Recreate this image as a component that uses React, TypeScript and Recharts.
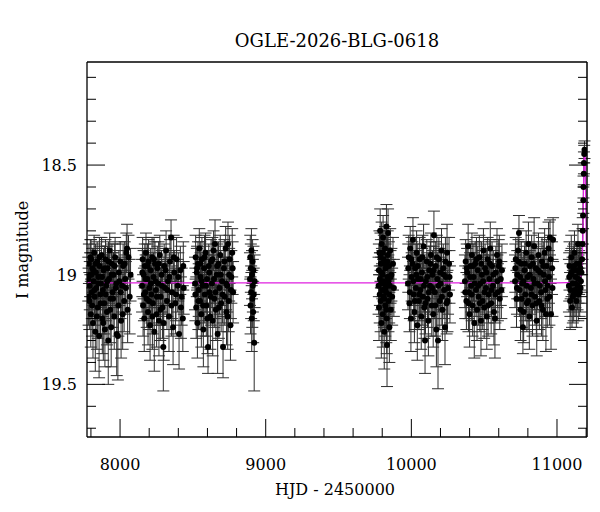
import React from 'react';
import { ComposedChart, Scatter, Line, XAxis, YAxis, ErrorBar } from 'recharts';

// [HJD - 2450000, I mag, error] per observing season
const season2017: [number, number, number][] = [
  [7782, 19.02, 0.10], [7786, 18.95, 0.09], [7789, 19.12, 0.13], [7792, 19.05, 0.11], [7796, 18.92, 0.08],
  [7799, 19.18, 0.15], [7803, 19.00, 0.10], [7806, 19.08, 0.12], [7810, 18.97, 0.09], [7814, 19.22, 0.16],
  [7818, 19.03, 0.11], [7822, 18.90, 0.08], [7826, 19.10, 0.13], [7830, 19.26, 0.18], [7834, 18.99, 0.10],
  [7838, 19.06, 0.12], [7843, 18.94, 0.09], [7847, 19.15, 0.14], [7851, 19.01, 0.10], [7856, 19.28, 0.19],
  [7860, 18.96, 0.09], [7864, 19.09, 0.12], [7869, 19.04, 0.11], [7873, 18.91, 0.08], [7878, 19.20, 0.16],
  [7882, 19.07, 0.12], [7887, 18.98, 0.10], [7891, 19.13, 0.14], [7896, 19.25, 0.17], [7900, 18.93, 0.09],
  [7905, 19.05, 0.11], [7910, 19.17, 0.15], [7914, 18.97, 0.10], [7919, 19.30, 0.20], [7924, 19.02, 0.11],
  [7929, 18.89, 0.08], [7934, 19.11, 0.13], [7939, 19.24, 0.18], [7944, 18.95, 0.09], [7949, 19.08, 0.12],
  [7955, 19.00, 0.10], [7960, 19.19, 0.15], [7966, 18.92, 0.09], [7971, 19.06, 0.12], [7977, 19.27, 0.19],
  [7985, 19.28, 0.20], [7989, 19.14, 0.14], [7995, 19.03, 0.11], [8001, 18.94, 0.09], [8007, 19.21, 0.17],
  [8014, 19.05, 0.12], [8021, 18.96, 0.10], [8028, 19.12, 0.14], [8035, 19.02, 0.11], [8043, 18.90, 0.09],
  [8048, 18.88, 0.11], [8052, 19.16, 0.15], [8058, 18.92, 0.10], [8066, 19.10, 0.17], [8072, 19.00, 0.12],
  [7784, 19.10, 0.13], [7794, 19.00, 0.10], [7801, 18.93, 0.09], [7808, 19.14, 0.14], [7816, 18.98, 0.10],
  [7824, 19.07, 0.12], [7832, 18.95, 0.09], [7841, 19.19, 0.15], [7849, 19.04, 0.11], [7858, 18.92, 0.09],
  [7866, 19.13, 0.14], [7876, 19.01, 0.10], [7885, 19.22, 0.17], [7894, 18.97, 0.10], [7902, 19.09, 0.12],
  [7912, 19.03, 0.11], [7921, 18.94, 0.09], [7932, 19.16, 0.15], [7942, 19.00, 0.10], [7952, 19.11, 0.13],
  [7963, 18.96, 0.10], [7974, 19.04, 0.11], [7992, 18.99, 0.10], [8004, 19.08, 0.12], [8018, 19.18, 0.16],
  [8032, 18.95, 0.10], [8040, 19.06, 0.12],
];

const season2018: [number, number, number][] = [
  [8151, 19.05, 0.12], [8155, 18.93, 0.10], [8158, 19.14, 0.14], [8162, 19.00, 0.11], [8166, 19.20, 0.15],
  [8170, 18.96, 0.10], [8174, 19.08, 0.12], [8178, 18.90, 0.09], [8183, 19.11, 0.13], [8187, 19.02, 0.11],
  [8192, 19.17, 0.15], [8196, 18.94, 0.10], [8201, 19.06, 0.12], [8206, 19.23, 0.16], [8210, 18.98, 0.10],
  [8215, 19.09, 0.13], [8220, 18.92, 0.09], [8225, 19.13, 0.14], [8230, 19.01, 0.11], [8235, 19.26, 0.18],
  [8240, 18.95, 0.10], [8246, 19.07, 0.12], [8251, 19.18, 0.15], [8256, 18.97, 0.10], [8262, 19.04, 0.11],
  [8267, 19.21, 0.16], [8273, 18.91, 0.09], [8279, 19.10, 0.13], [8285, 19.00, 0.11], [8291, 19.15, 0.14],
  [8297, 19.33, 0.20], [8303, 18.96, 0.10], [8309, 19.06, 0.12], [8316, 18.89, 0.09], [8322, 19.12, 0.13],
  [8329, 19.03, 0.11], [8336, 19.19, 0.16], [8343, 18.94, 0.10], [8350, 18.83, 0.08], [8357, 19.08, 0.12],
  [8364, 19.24, 0.17], [8372, 18.99, 0.10], [8380, 19.13, 0.14], [8388, 18.93, 0.10], [8396, 19.05, 0.12],
  [8405, 19.27, 0.16], [8414, 18.98, 0.11], [8423, 19.10, 0.13], [8431, 19.20, 0.15], [8437, 19.06, 0.12],
  [8153, 18.99, 0.11], [8164, 19.09, 0.12], [8176, 19.02, 0.11], [8189, 18.96, 0.10], [8199, 19.12, 0.13],
  [8212, 19.04, 0.11], [8222, 19.19, 0.15], [8233, 18.93, 0.10], [8243, 19.03, 0.11], [8253, 19.10, 0.13],
  [8265, 18.95, 0.10], [8276, 19.16, 0.14], [8288, 19.05, 0.12], [8300, 19.22, 0.17], [8312, 18.98, 0.10],
  [8325, 19.07, 0.12], [8339, 19.01, 0.11], [8353, 19.14, 0.14], [8368, 18.92, 0.10], [8384, 19.09, 0.12],
  [8400, 19.01, 0.11], [8418, 19.15, 0.14], [8434, 18.96, 0.11],
];

const season2019: [number, number, number][] = [
  [8515, 19.04, 0.12], [8519, 18.92, 0.10], [8523, 19.15, 0.14], [8527, 18.99, 0.11], [8531, 19.22, 0.16],
  [8535, 18.95, 0.10], [8540, 19.07, 0.12], [8544, 18.88, 0.09], [8549, 19.12, 0.13], [8553, 19.01, 0.11],
  [8558, 19.18, 0.15], [8562, 18.93, 0.10], [8567, 19.05, 0.12], [8572, 19.25, 0.17], [8577, 18.97, 0.10],
  [8582, 19.09, 0.13], [8587, 18.90, 0.09], [8592, 19.14, 0.14], [8597, 19.02, 0.11], [8604, 19.33, 0.12],
  [8609, 18.96, 0.10], [8614, 19.08, 0.12], [8620, 19.19, 0.15], [8625, 18.94, 0.10], [8631, 19.04, 0.11],
  [8636, 19.21, 0.16], [8642, 18.89, 0.09], [8647, 19.11, 0.13], [8652, 18.86, 0.11], [8658, 19.16, 0.14],
  [8664, 19.00, 0.11], [8670, 19.27, 0.18], [8676, 18.95, 0.10], [8682, 19.06, 0.12], [8688, 18.91, 0.09],
  [8694, 19.13, 0.13], [8700, 19.03, 0.11], [8707, 19.33, 0.14], [8713, 18.97, 0.10], [8719, 19.10, 0.13],
  [8725, 18.88, 0.10], [8731, 19.17, 0.15], [8736, 19.05, 0.12], [8741, 18.86, 0.10], [8746, 19.12, 0.14],
  [8752, 18.93, 0.11], [8758, 19.23, 0.16], [8764, 19.01, 0.12], [8770, 18.90, 0.11], [8776, 19.08, 0.14],
  [8517, 19.09, 0.12], [8529, 18.97, 0.10], [8538, 19.12, 0.13], [8551, 18.95, 0.10], [8560, 19.03, 0.11],
  [8570, 19.14, 0.14], [8580, 18.92, 0.10], [8590, 19.05, 0.12], [8600, 19.20, 0.16], [8612, 18.99, 0.10],
  [8623, 19.10, 0.13], [8634, 18.93, 0.10], [8645, 19.02, 0.11], [8656, 19.08, 0.12], [8667, 18.96, 0.10],
  [8679, 19.15, 0.14], [8691, 19.00, 0.11], [8704, 19.09, 0.13], [8716, 18.94, 0.10], [8728, 19.04, 0.12],
  [8739, 19.19, 0.15], [8749, 19.00, 0.12], [8761, 19.07, 0.13], [8773, 18.97, 0.12],
];

const season2020: [number, number, number][] = [
  [8892, 19.02, 0.12], [8894, 18.92, 0.10], [8896, 19.14, 0.13], [8898, 18.97, 0.11], [8900, 19.08, 0.12],
  [8902, 18.89, 0.10], [8904, 19.20, 0.15], [8906, 19.00, 0.11], [8908, 19.11, 0.13], [8910, 18.94, 0.10],
  [8912, 19.05, 0.12], [8914, 19.17, 0.14], [8916, 18.98, 0.11], [8918, 19.09, 0.12], [8921, 19.31, 0.22],
  [8924, 19.03, 0.12],
];

const season2022: [number, number, number][] = [
  [9775, 19.05, 0.13], [9778, 19.15, 0.15], [9781, 18.90, 0.10], [9784, 19.02, 0.12], [9786, 18.80, 0.10],
  [9789, 19.12, 0.14], [9791, 18.95, 0.11], [9794, 19.22, 0.16], [9796, 18.86, 0.10], [9799, 19.07, 0.12],
  [9801, 19.00, 0.11], [9804, 19.18, 0.15], [9806, 18.83, 0.10], [9809, 19.10, 0.13], [9811, 18.93, 0.11],
  [9814, 19.26, 0.17], [9816, 19.04, 0.12], [9819, 18.88, 0.10], [9821, 19.14, 0.14], [9824, 18.97, 0.11],
  [9826, 19.08, 0.12], [9829, 18.78, 0.10], [9831, 19.20, 0.16], [9833, 19.32, 0.19], [9836, 19.01, 0.12],
  [9838, 18.91, 0.11], [9840, 18.81, 0.11], [9843, 19.12, 0.14], [9846, 18.96, 0.11], [9849, 19.24, 0.16],
  [9852, 19.05, 0.12], [9855, 18.89, 0.10], [9859, 19.16, 0.14], [9863, 19.00, 0.12], [9868, 19.10, 0.13],
  [9874, 18.95, 0.12], [9880, 19.06, 0.13],
  [9777, 18.98, 0.12], [9783, 19.09, 0.13], [9788, 18.92, 0.11], [9793, 19.04, 0.12], [9798, 18.99, 0.11],
  [9803, 18.90, 0.10], [9808, 19.03, 0.12], [9813, 19.11, 0.13], [9818, 18.95, 0.11], [9823, 19.06, 0.12],
  [9828, 19.16, 0.15], [9835, 18.94, 0.11], [9842, 19.03, 0.12], [9848, 19.09, 0.13], [9857, 19.01, 0.12],
];

const season2023: [number, number, number][] = [
  [9977, 19.04, 0.12], [9982, 18.92, 0.10], [9987, 19.13, 0.13], [9992, 18.88, 0.10], [9997, 19.20, 0.15],
  [10002, 19.01, 0.11], [10007, 18.95, 0.10], [10011, 18.84, 0.10], [10016, 19.09, 0.12], [10021, 19.17, 0.14],
  [10026, 18.97, 0.11], [10031, 19.06, 0.12], [10036, 18.90, 0.10], [10041, 19.23, 0.16], [10046, 19.02, 0.11],
  [10052, 19.12, 0.13], [10057, 18.93, 0.10], [10062, 19.07, 0.12], [10068, 19.19, 0.15], [10073, 18.99, 0.11],
  [10079, 19.10, 0.13], [10084, 18.87, 0.10], [10089, 19.15, 0.14], [10094, 19.30, 0.15], [10100, 19.03, 0.11],
  [10106, 18.94, 0.10], [10111, 19.11, 0.13], [10117, 19.21, 0.16], [10123, 18.98, 0.11], [10128, 19.05, 0.12],
  [10134, 18.91, 0.10], [10140, 19.14, 0.14], [10145, 19.00, 0.11], [10150, 19.18, 0.15], [10155, 18.82, 0.11],
  [10161, 19.08, 0.12], [10167, 18.96, 0.11], [10172, 19.25, 0.17], [10178, 19.02, 0.12], [10183, 19.30, 0.22],
  [10189, 18.93, 0.10], [10195, 19.12, 0.13], [10201, 19.04, 0.12], [10207, 18.89, 0.10], [10213, 19.16, 0.14],
  [10219, 18.97, 0.11], [10225, 19.07, 0.13], [10231, 19.24, 0.17], [10237, 19.01, 0.12], [10242, 19.13, 0.14],
  [10245, 18.90, 0.13], [10252, 19.06, 0.12], [10259, 18.95, 0.12], [10265, 19.09, 0.13],
  [9979, 18.97, 0.11], [9990, 19.08, 0.12], [10000, 18.93, 0.10], [10013, 19.03, 0.11], [10024, 19.12, 0.13],
  [10034, 19.00, 0.11], [10044, 18.96, 0.10], [10055, 19.09, 0.12], [10065, 19.02, 0.11], [10076, 18.92, 0.10],
  [10087, 19.05, 0.12], [10097, 19.13, 0.14], [10109, 19.01, 0.11], [10120, 19.08, 0.12], [10131, 18.95, 0.10],
  [10143, 19.06, 0.12], [10153, 18.98, 0.11], [10164, 19.14, 0.14], [10175, 18.92, 0.10], [10186, 19.05, 0.12],
  [10198, 18.99, 0.11], [10210, 19.10, 0.13], [10222, 19.00, 0.11], [10234, 18.94, 0.11], [10248, 19.12, 0.14],
  [10262, 19.01, 0.12],
];

const season2024: [number, number, number][] = [
  [10368, 19.03, 0.12], [10373, 18.94, 0.10], [10378, 19.12, 0.13], [10383, 18.99, 0.11], [10390, 18.87, 0.10],
  [10395, 19.08, 0.12], [10400, 19.18, 0.15], [10405, 18.96, 0.10], [10411, 19.05, 0.12], [10416, 18.91, 0.10],
  [10421, 19.14, 0.14], [10427, 19.01, 0.11], [10432, 19.22, 0.16], [10438, 18.95, 0.10], [10444, 19.07, 0.12],
  [10451, 19.16, 0.14], [10456, 18.98, 0.11], [10462, 19.10, 0.13], [10467, 18.92, 0.10], [10473, 19.04, 0.12],
  [10478, 19.21, 0.16], [10484, 19.00, 0.11], [10490, 19.12, 0.13], [10495, 18.89, 0.10], [10500, 19.15, 0.14],
  [10506, 18.97, 0.11], [10512, 19.06, 0.12], [10518, 19.19, 0.15], [10524, 18.93, 0.10], [10530, 19.09, 0.13],
  [10536, 19.02, 0.11], [10542, 18.88, 0.12], [10548, 19.13, 0.14], [10554, 18.96, 0.11], [10560, 19.05, 0.12],
  [10567, 19.17, 0.15], [10574, 19.20, 0.18], [10580, 18.99, 0.12], [10588, 18.91, 0.12], [10594, 19.08, 0.13],
  [10600, 18.96, 0.12], [10607, 19.11, 0.14], [10614, 19.02, 0.12], [10622, 18.98, 0.12],
  [10370, 19.08, 0.12], [10380, 18.97, 0.11], [10392, 19.13, 0.13], [10403, 19.01, 0.11], [10414, 19.09, 0.12],
  [10424, 18.96, 0.10], [10435, 19.04, 0.12], [10447, 18.93, 0.10], [10459, 19.05, 0.12], [10470, 19.13, 0.13],
  [10481, 18.95, 0.10], [10493, 19.03, 0.12], [10503, 19.08, 0.12], [10515, 18.99, 0.11], [10527, 19.14, 0.14],
  [10539, 18.95, 0.11], [10551, 19.07, 0.12], [10563, 19.00, 0.11], [10577, 19.09, 0.13], [10591, 19.03, 0.12],
  [10604, 18.94, 0.12], [10618, 19.07, 0.13],
];

const season2025: [number, number, number][] = [
  [10712, 19.03, 0.12], [10717, 18.93, 0.10], [10722, 19.11, 0.13], [10727, 19.00, 0.11], [10733, 18.89, 0.10],
  [10739, 18.81, 0.08], [10744, 19.07, 0.12], [10750, 19.16, 0.14], [10755, 18.95, 0.10], [10761, 19.04, 0.12],
  [10766, 19.24, 0.12], [10771, 19.17, 0.14], [10777, 18.98, 0.11], [10782, 19.09, 0.12], [10788, 18.90, 0.10],
  [10793, 19.13, 0.13], [10799, 19.01, 0.11], [10804, 18.86, 0.10], [10810, 19.19, 0.15], [10815, 18.96, 0.10],
  [10821, 19.06, 0.12], [10826, 18.92, 0.10], [10832, 19.14, 0.14], [10838, 19.02, 0.11], [10843, 18.87, 0.13],
  [10849, 19.10, 0.13], [10855, 18.97, 0.11], [10861, 19.21, 0.16], [10867, 19.04, 0.12], [10873, 18.91, 0.10],
  [10879, 19.12, 0.13], [10885, 18.99, 0.11], [10891, 19.08, 0.12], [10897, 18.94, 0.11], [10903, 19.16, 0.14],
  [10909, 19.00, 0.12], [10915, 18.90, 0.11], [10921, 19.07, 0.12], [10924, 19.18, 0.17], [10930, 18.96, 0.12],
  [10936, 19.05, 0.12], [10942, 18.88, 0.12], [10948, 19.10, 0.13], [10952, 18.83, 0.08], [10959, 19.18, 0.16],
  [10966, 18.97, 0.12], [10973, 18.84, 0.10],
  [10714, 18.97, 0.11], [10725, 19.06, 0.12], [10736, 18.94, 0.10], [10747, 19.01, 0.11], [10758, 19.11, 0.13],
  [10769, 19.03, 0.12], [10780, 18.95, 0.10], [10791, 19.05, 0.12], [10802, 19.12, 0.13], [10813, 19.00, 0.11],
  [10824, 19.09, 0.12], [10835, 18.95, 0.10], [10846, 19.04, 0.12], [10858, 19.13, 0.14], [10870, 18.98, 0.11],
  [10882, 19.05, 0.12], [10894, 19.14, 0.14], [10906, 18.96, 0.11], [10918, 19.03, 0.12], [10933, 19.11, 0.13],
  [10945, 19.01, 0.12], [10956, 18.93, 0.11], [10969, 19.06, 0.13],
];

const season2026: [number, number, number][] = [
  [11082, 19.05, 0.12], [11086, 18.96, 0.11], [11090, 19.12, 0.13], [11094, 19.00, 0.11], [11098, 18.92, 0.10],
  [11103, 19.15, 0.09], [11107, 19.04, 0.12], [11111, 18.98, 0.11], [11115, 19.09, 0.12], [11120, 18.90, 0.10],
  [11124, 19.07, 0.12], [11128, 19.01, 0.11], [11133, 19.12, 0.12], [11137, 18.95, 0.10], [11141, 19.05, 0.11],
  [11144, 18.86, 0.09], [11148, 19.02, 0.11], [11152, 18.99, 0.10], [11156, 19.08, 0.11], [11160, 18.97, 0.10],
  [11164, 19.03, 0.10], [11168, 18.99, 0.09], [11172, 18.93, 0.07], [11175, 18.86, 0.07], [11177, 18.80, 0.06],
  [11179, 18.73, 0.06], [11181, 18.66, 0.06], [11182, 18.60, 0.05], [11184, 18.54, 0.05], [11185, 18.49, 0.05],
  [11187, 18.45, 0.04], [11189, 18.43, 0.04],
  [11084, 19.01, 0.11], [11092, 19.07, 0.12], [11100, 18.99, 0.11], [11109, 19.10, 0.12], [11117, 18.96, 0.10],
  [11126, 19.04, 0.11], [11135, 18.98, 0.10], [11146, 19.09, 0.12], [11154, 18.95, 0.10], [11162, 19.06, 0.11],
];

// microlensing model curve
const modelHjd = [7773, 9000, 10000, 11000, 11130, 11150, 11160, 11168, 11174, 11178, 11181, 11184, 11187, 11190, 11193, 11196, 11199, 11202, 11205, 11206];
const modelMag = [19.037, 19.037, 19.037, 19.037, 19.035, 19.03, 19.02, 18.99, 18.92, 18.8, 18.66, 18.52, 18.45, 18.43, 18.47, 18.58, 18.74, 18.88, 18.97, 18.99];

const xTicks = [7800, 8000, 8200, 8400, 8600, 8800, 9000, 9200, 9400, 9600, 9800, 10000, 10200, 10400, 10600, 10800, 11000, 11200];
const yTicks = [18.1, 18.2, 18.3, 18.4, 18.5, 18.6, 18.7, 18.8, 18.9, 19, 19.1, 19.2, 19.3, 19.4, 19.5, 19.6, 19.7];

const points = [season2017, season2018, season2019, season2020, season2022, season2023, season2024, season2025, season2026]
  .flat()
  .map(([hjd, mag, err]) => ({ hjd, mag, err }));
const model = modelHjd.map((hjd, i) => ({ hjd, mag: modelMag[i] }));

const FONT = '"DejaVu Serif", serif';
const xDomain = [7773, 11206];
const yDomain = [18.03, 19.74];

const isMajorX = (v: number) => v % 1000 === 0;
const isMajorY = (v: number) => Math.abs(v * 2 - Math.round(v * 2)) < 1e-6;

const BottomTick = (props: any) => {
  const { x, y, payload } = props;
  const major = isMajorX(payload.value);
  return (
    <g>
      <line x1={x} x2={x} y1={y} y2={y - (major ? 18 : 9)} stroke="#000" />
      {major && (
        <text x={x} y={y + 33} textAnchor="middle" fontFamily={FONT} fontSize={16} fill="#000">
          {payload.value}
        </text>
      )}
    </g>
  );
};

const TopTick = (props: any) => {
  const { x, y, payload } = props;
  const major = isMajorX(payload.value);
  return <line x1={x} x2={x} y1={y} y2={y + (major ? 18 : 9)} stroke="#000" />;
};

const LeftTick = (props: any) => {
  const { x, y, payload } = props;
  const major = isMajorY(payload.value);
  return (
    <g>
      <line x1={x} x2={x + (major ? 18 : 9)} y1={y} y2={y} stroke="#000" />
      {major && (
        <text x={x - 10} y={y + 6} textAnchor="end" fontFamily={FONT} fontSize={16} fill="#000">
          {String(Math.round(payload.value * 10) / 10)}
        </text>
      )}
    </g>
  );
};

const RightTick = (props: any) => {
  const { x, y, payload } = props;
  const major = isMajorY(payload.value);
  return <line x1={x} x2={x - (major ? 18 : 9)} y1={y} y2={y} stroke="#000" />;
};

const Dot = (props: any) => <circle cx={props.cx} cy={props.cy} r={3} fill="#000" />;

export default function App() {
  return (
    <div style={{ position: 'absolute', left: 0, top: 0, width: 600, height: 512, background: '#fff' }}>
      <ComposedChart width={600} height={512} margin={{ top: 61, right: 12, bottom: 74, left: 86 }}>
        <XAxis
          dataKey="hjd"
          type="number"
          domain={xDomain}
          allowDataOverflow
          ticks={xTicks}
          interval={0}
          height={1}
          tickSize={0}
          tickMargin={0}
          tickLine={false}
          tick={<BottomTick />}
          axisLine={{ stroke: '#000', strokeWidth: 1.5 }}
        />
        <XAxis
          xAxisId="top"
          orientation="top"
          type="number"
          domain={xDomain}
          allowDataOverflow
          ticks={xTicks}
          interval={0}
          height={1}
          tickSize={0}
          tickMargin={0}
          tickLine={false}
          tick={<TopTick />}
          axisLine={{ stroke: '#000', strokeWidth: 1.3 }}
        />
        <YAxis
          type="number"
          domain={yDomain}
          reversed
          allowDataOverflow
          ticks={yTicks}
          interval={0}
          width={1}
          tickSize={0}
          tickMargin={0}
          tickLine={false}
          tick={<LeftTick />}
          axisLine={{ stroke: '#000', strokeWidth: 1.3 }}
        />
        <YAxis
          yAxisId="right"
          orientation="right"
          type="number"
          domain={yDomain}
          reversed
          allowDataOverflow
          ticks={yTicks}
          interval={0}
          width={1}
          tickSize={0}
          tickMargin={0}
          tickLine={false}
          tick={<RightTick />}
          axisLine={{ stroke: '#000', strokeWidth: 1.5 }}
        />
        <Scatter data={points} dataKey="mag" shape={<Dot />} isAnimationActive={false}>
          <ErrorBar dataKey="err" direction="y" width={6} stroke="#2e2e2e" strokeWidth={1} isAnimationActive={false} />
        </Scatter>
        <Line
          data={model}
          dataKey="mag"
          type="linear"
          stroke="#e020e0"
          strokeWidth={1.3}
          dot={false}
          activeDot={false}
          isAnimationActive={false}
        />
      </ComposedChart>
      <svg width={600} height={512} style={{ position: 'absolute', left: 0, top: 0, pointerEvents: 'none' }}>
        <text x={337} y={47} textAnchor="middle" fontFamily={FONT} fontSize={18} fill="#000">
          OGLE-2026-BLG-0618
        </text>
        <text x={335} y={495} textAnchor="middle" fontFamily={FONT} fontSize={16} fill="#000">
          HJD - 2450000
        </text>
        <text x={28} y={250} textAnchor="middle" fontFamily={FONT} fontSize={16} fill="#000" transform="rotate(-90 28 250)">
          I magnitude
        </text>
      </svg>
    </div>
  );
}
